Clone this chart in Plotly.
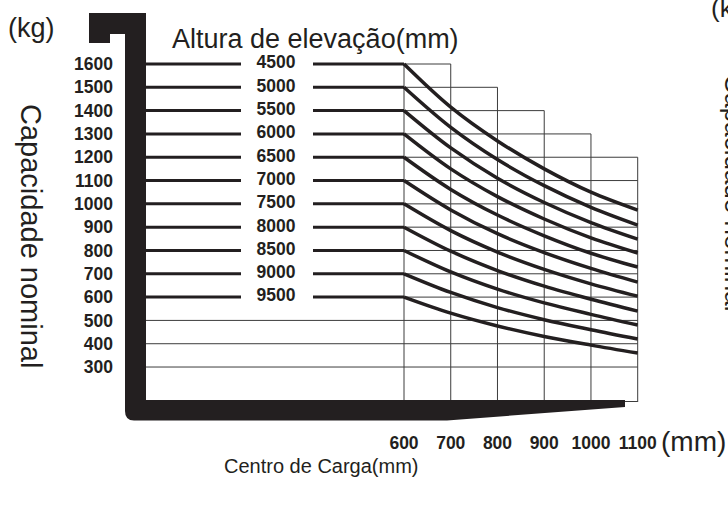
import plotly.graph_objects as go

# ---------------- data ----------------
load_centers = [600, 700, 800, 900, 1000, 1100]          # mm
lift_heights = ["4500", "5000", "5500", "6000", "6500", "7000",
                "7500", "8000", "8500", "9000", "9500"]  # mm

cap_4500 = [1600, 1415, 1270, 1150, 1050, 973]
cap_5000 = [1500, 1328, 1190, 1078, 985, 909]
cap_5500 = [1400, 1240, 1110, 1006, 920, 849]
cap_6000 = [1300, 1150, 1031, 935, 854, 789]
cap_6500 = [1200, 1062, 952, 863, 788, 729]
cap_7000 = [1100, 974, 872, 791, 723, 664]
cap_7500 = [1000, 885, 793, 719, 657, 604]
cap_8000 = [900, 797, 714, 647, 591, 540]
cap_8500 = [800, 708, 634, 575, 526, 480]
cap_9000 = [700, 620, 555, 503, 460, 420]
cap_9500 = [600, 531, 476, 431, 394, 360]
series = [cap_4500, cap_5000, cap_5500, cap_6000, cap_6500, cap_7000,
          cap_7500, cap_8000, cap_8500, cap_9000, cap_9500]

y_ticks = [1600, 1500, 1400, 1300, 1200, 1100, 1000, 900, 800, 700, 600, 500, 400, 300]
x_ticks = [600, 700, 800, 900, 1000, 1100]
x_tick_labels = ["600", "700", "800", "900", "1000", "1100"]

# ---------------- layout geometry ----------------
W, H = 728, 511
PLOT_L, PLOT_R, PLOT_T, PLOT_B = 146, 728, 0, 402
PX_PER_MM = 0.4674
PX_PER_KG = 0.2331
X600_PX = 404
Y1600_PX = 64

x_range = [600 - (X600_PX - PLOT_L) / PX_PER_MM, 600 + (PLOT_R - X600_PX) / PX_PER_MM]
y_range = [1600 - (PLOT_B - Y1600_PX) / PX_PER_KG, 1600 + (Y1600_PX - PLOT_T) / PX_PER_KG]


def px_to_x(px):
    return 600 + (px - X600_PX) / PX_PER_MM


def pxx(px):  # pixel -> paper x
    return (px - PLOT_L) / (PLOT_R - PLOT_L)


def pxy(py):  # pixel -> paper y
    return (PLOT_B - py) / (PLOT_B - PLOT_T)


INK = "#231f20"
GRID = "#3c3c3c"
NUMF = "Liberation Sans, Arial, sans-serif"
SANS = "Liberation Sans, Arial, sans-serif"
NUM_SIZE = 17.5

fig = go.Figure()

x_left = x_range[0]
x_gap_l = px_to_x(241)
x_gap_r = px_to_x(313)
x_label = px_to_x(276)

shapes = []
# staircase grid
col_tops = [1600, 1500, 1400, 1300, 1200]
for i, top in enumerate(col_tops):
    xa, xb = x_ticks[i], x_ticks[i + 1]
    shapes.append(dict(type="line", xref="x", yref="y", x0=xb, x1=xb, y0=y_range[0], y1=top,
                       line=dict(color=GRID, width=1), layer="below"))
    for lvl in y_ticks:
        if lvl <= top:
            shapes.append(dict(type="line", xref="x", yref="y", x0=xa, x1=xb, y0=lvl, y1=lvl,
                               line=dict(color=GRID, width=1), layer="below"))
shapes.append(dict(type="line", xref="x", yref="y", x0=600, x1=600, y0=y_range[0], y1=1600,
                   line=dict(color=GRID, width=1), layer="below"))
for lvl in [500, 400, 300]:
    shapes.append(dict(type="line", xref="x", yref="y", x0=x_left, x1=600, y0=lvl, y1=lvl,
                       line=dict(color=GRID, width=1), layer="below"))
shapes.append(dict(type="line", xref="x", yref="paper", x0=600, x1=1100, y0=pxy(401.5), y1=pxy(401.5),
                   line=dict(color=GRID, width=1), layer="below"))

# black mast/fork frame (decoration) in paper coordinates
pts = [("M", 89, 13), ("L", 146, 13), ("L", 146, 400), ("L", 625, 400), ("L", 625, 407),
       ("L", 447, 420.5), ("L", 134, 420.5)]
path = " ".join(f"{c} {pxx(a):.5f},{pxy(b):.5f}" for c, a, b in pts)
path += f" Q {pxx(125):.5f},{pxy(420.5):.5f} {pxx(125):.5f},{pxy(411):.5f}"
for c, a, b in [("L", 125, 34), ("L", 110, 34), ("L", 110, 43), ("L", 89, 43)]:
    path += f" {c} {pxx(a):.5f},{pxy(b):.5f}"
path += " Z"
shapes.append(dict(type="path", xref="paper", yref="paper", path=path,
                   fillcolor=INK, line=dict(width=0), layer="above"))

# traces
for vals in series:
    c = vals[0]
    fig.add_trace(go.Scatter(x=[x_left, x_gap_l, None, x_gap_r, load_centers[0]],
                             y=[c, c, None, c, c], mode="lines",
                             line=dict(color=INK, width=3), hoverinfo="skip",
                             showlegend=False))
    fig.add_trace(go.Scatter(x=load_centers, y=vals, mode="lines",
                             line=dict(color=INK, width=3.5, shape="spline"),
                             showlegend=False))

fig.add_trace(go.Scatter(x=[x_label] * len(series), y=[s[0] for s in series],
                         text=lift_heights, mode="text", textposition="middle center",
                         textfont=dict(family=NUMF, size=NUM_SIZE, color=INK, weight="bold"),
                         showlegend=False, hoverinfo="skip"))

annotations = [
    dict(text="(kg)", x=pxx(6), y=pxy(28), xanchor="left", yanchor="middle", size=27),
    dict(text="Altura de elevação(mm)", x=pxx(170), y=pxy(39), xanchor="left", yanchor="middle", size=27),
    dict(text="Capacidade nominal", x=pxx(31), y=pxy(236), xanchor="center", yanchor="middle",
         textangle=90, size=29),
    dict(text="Centro de Carga(mm)", x=pxx(321), y=pxy(466), xanchor="center", yanchor="middle", size=20),
    dict(text="(mm)", x=pxx(659), y=pxy(441), xanchor="left", yanchor="middle", size=28),
    dict(text="(kg)", x=pxx(709), y=pxy(8), xanchor="left", yanchor="middle", size=26),
    dict(text="Capacidade nominal", x=pxx(734), y=pxy(72), xanchor="center", yanchor="top",
         textangle=90, size=26),
]
for a in annotations:
    sz = a.pop("size")
    a.update(xref="paper", yref="paper", showarrow=False,
             font=dict(family=SANS, size=sz, color=INK))

fig.update_layout(
    width=W, height=H,
    margin=dict(l=PLOT_L, r=W - PLOT_R, t=PLOT_T, b=H - PLOT_B, pad=0, autoexpand=False),
    paper_bgcolor="white", plot_bgcolor="white",
    shapes=shapes, annotations=annotations,
    xaxis=dict(range=x_range, showgrid=False, zeroline=False, showline=False, ticks="",
               tickvals=x_ticks, ticktext=x_tick_labels, ticklabelstandoff=28, tickangle=0,
               automargin=False,
               tickfont=dict(family=NUMF, size=NUM_SIZE, color=INK, weight="bold"), fixedrange=True),
    yaxis=dict(range=y_range, showgrid=False, zeroline=False, showline=False, ticks="",
               tickvals=y_ticks, ticktext=[str(v) for v in y_ticks], ticklabelstandoff=32,
               automargin=False,
               tickfont=dict(family=NUMF, size=NUM_SIZE, color=INK, weight="bold"), fixedrange=True),
    showlegend=False,
)

fig.write_html("out.html", config={"displayModeBar": False},
               post_script="document.body.style.margin='0px';document.body.style.padding='0px';")
